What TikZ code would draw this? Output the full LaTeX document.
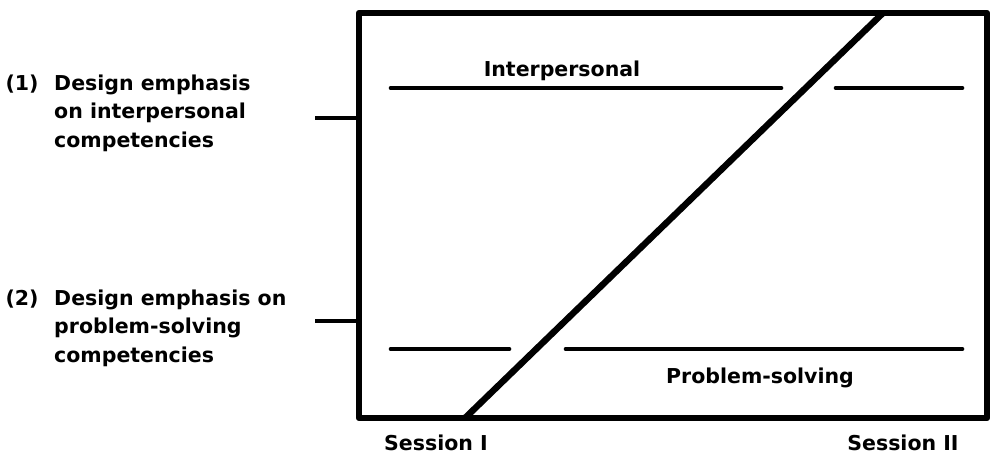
\documentclass[tikz,border=0pt]{standalone}
\usepackage{fontspec}
\setmainfont{DejaVu Sans}
\usetikzlibrary{positioning}
\usetikzlibrary{calc}

\begin{document}
\begin{tikzpicture}[x=0.03cm, y=-0.03cm, every node/.style={font=\fontsize{17.5}{24}\selectfont\bfseries, inner sep=0pt, align=left},
    frame/.style={line width=5.5pt, line join=round},
    bar/.style={line width=4pt, line cap=round},
    tickmark/.style={line width=4pt}]
    \useasboundingbox (0,0) rectangle (990,455);

    % the frame
    \coordinate (nw) at (359,13);
    \coordinate (se) at (987,418);
    \draw[frame] (nw) rectangle (se);

    % design labels with their ticks
    \node (des1) [anchor=north west] at (54,75) {Design emphasis\\on interpersonal\\competencies};
    \node (num1) [left=13pt of des1.north west, anchor=north east] {(1)};
    \node (des2) [anchor=north west] at (54,290) {Design emphasis on\\problem-solving\\competencies};
    \node (num2) [left=13pt of des2.north west, anchor=north east] {(2)};
    \coordinate (tk1) at (315,118);
    \coordinate (tk2) at (315,321);
    \draw[tickmark] (tk1) -- (tk1 -| nw);
    \draw[tickmark] (tk2) -- (tk2 -| nw);

    % the two competency lines
    \coordinate (ipa) at (391,88);
    \coordinate (ipb) at (781,88);
    \coordinate (ipc) at (836,88);
    \coordinate (ipd) at (962,88);
    \coordinate (psa) at (391,349);
    \coordinate (psb) at (509,349);
    \coordinate (psc) at (566,349);
    \coordinate (psd) at (962,349);
    \draw[bar] (ipa) -- (ipb);
    \draw[bar] (ipc) -- (ipd);
    \draw[bar] (psa) -- (psb);
    \draw[bar] (psc) -- (psd);
    \node (ip) at (562,71) {Interpersonal};
    \node (ps) at (760,378) {Problem-solving};

    % shift from session I to session II
    \coordinate (lo) at (465,418);
    \coordinate (hi) at (883,13);
    \draw[frame] (lo) -- (hi);

    \node (s1) at (436,443) {Session I};
    \node (s2) at (903,443) {Session II};
\end{tikzpicture}
\end{document}
